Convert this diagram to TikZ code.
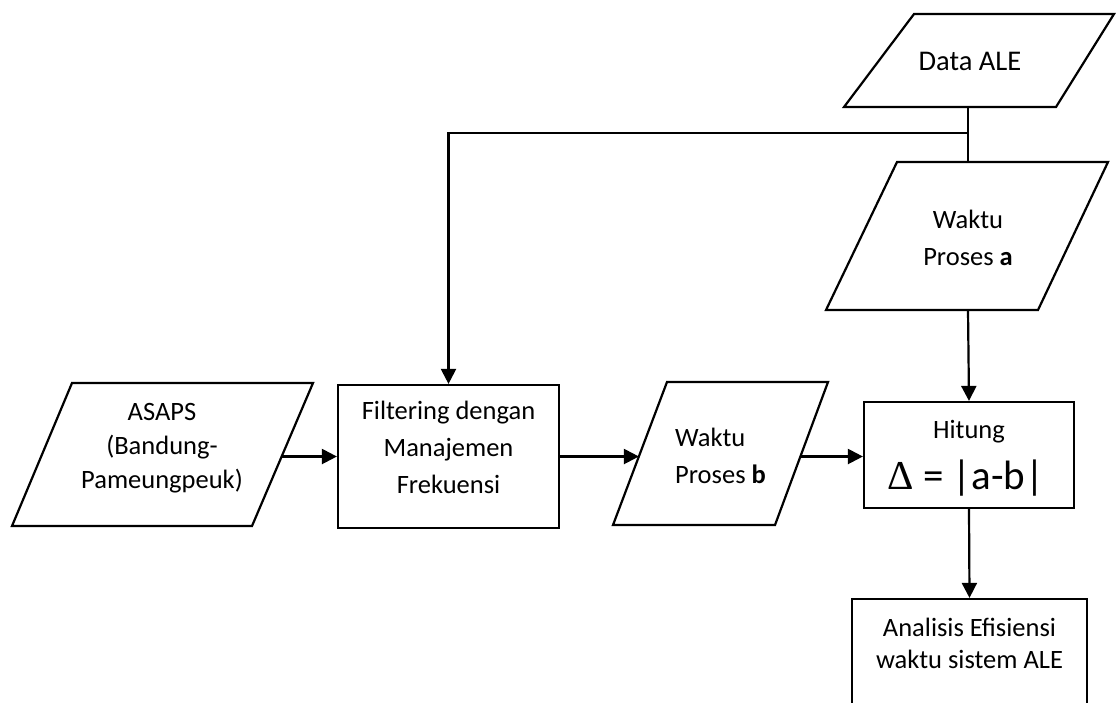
\documentclass[tikz,border=0pt]{standalone}
\usepackage{fontspec}
\setmainfont{Carlito}
\newfontfamily\symfont{Liberation Serif}
\usetikzlibrary{arrows.meta}
\begin{document}
\begin{tikzpicture}[x=1pt,y=-1pt,
  shapeline/.style={line width=2.2pt, line join=miter},
  conn/.style={line width=2.2pt},
  arr/.style={conn, -{Triangle[length=15pt,width=15pt]}},
  txt/.style={inner sep=0pt, align=center, font=\fontsize{26.5}{37}\selectfont},
  box/.style={draw, line width=2.2pt, inner sep=0pt},
]
\useasboundingbox (0,0) rectangle (1116,702);

% Data ALE
\draw[shapeline] (844,107) -- (1056,107) -- (1114,14) -- (914,14) -- cycle;
\node[txt, anchor=base, font=\fontsize{28.5}{34}\selectfont] (datat) at (970,70) {Data ALE};
\coordinate (dataS) at (968,107);
\coordinate (junc) at (968,133);

% Waktu Proses a
\draw[shapeline] (826,310) -- (1038,310) -- (1108,162) -- (897,162) -- cycle;
\node[txt, anchor=base] (waktuat) at (968,265) {Waktu\\Proses \textbf{a}};
\coordinate (waktuaN) at (968,162);
\coordinate (waktuaS) at (968,310);

% ASAPS
\draw[shapeline] (12,526) -- (252,526) -- (313,383) -- (72,383) -- cycle;
\node[txt, anchor=base, font=\fontsize{26.5}{34}\selectfont] (asapst) at (162,488) {ASAPS\\(Bandung-\\Pameungpeuk)};
\coordinate (asapsE) at (282,456.5);

% Filtering
\node[box, minimum width=221pt, minimum height=143pt] (filter) at (448.5,456.5) {};
\node[txt, anchor=base] (filtert) at (448.5,493) {Filtering dengan\\Manajemen\\Frekuensi};

% Waktu Proses b
\draw[shapeline] (613,525) -- (775,525) -- (828,382) -- (667,382) -- cycle;
\node[txt, anchor=base west, align=left] (wbt) at (675,483) {Waktu\\Proses \textbf{b}};
\coordinate (wbW) at (638.9,456.5);
\coordinate (wbE) at (800.9,456.5);

% Hitung
\node[box, minimum width=210pt, minimum height=106pt] (hitung) at (969,455) {};
\node[txt, anchor=base] (hitungt) at (969,438) {Hitung};
\node[txt, anchor=base, font=\fontsize{41}{44}\selectfont] (deltat) at (966,489) {{\symfont Δ} = |a-b|};

% Analisis
\node[box, minimum width=235pt, minimum height=226pt] (analisis) at (969.5,712) {};
\node[txt, anchor=base, font=\fontsize{26.5}{31.5}\selectfont] (analisist) at (969.5,668) {Analisis Efisiensi\\waktu sistem ALE};

% connectors
\draw[conn] (dataS) -- (waktuaN);
\draw[arr] (junc) -| (filter.north);
\draw[arr] (waktuaS) -- (hitung.north);
\draw[arr] (asapsE) -- (filter.west);
\draw[arr] (filter.east) -- (wbW);
\draw[arr] (wbE) -- (wbE -| hitung.west);
\draw[arr] (hitung.south) -- (analisis.north);
\end{tikzpicture}
\end{document}
